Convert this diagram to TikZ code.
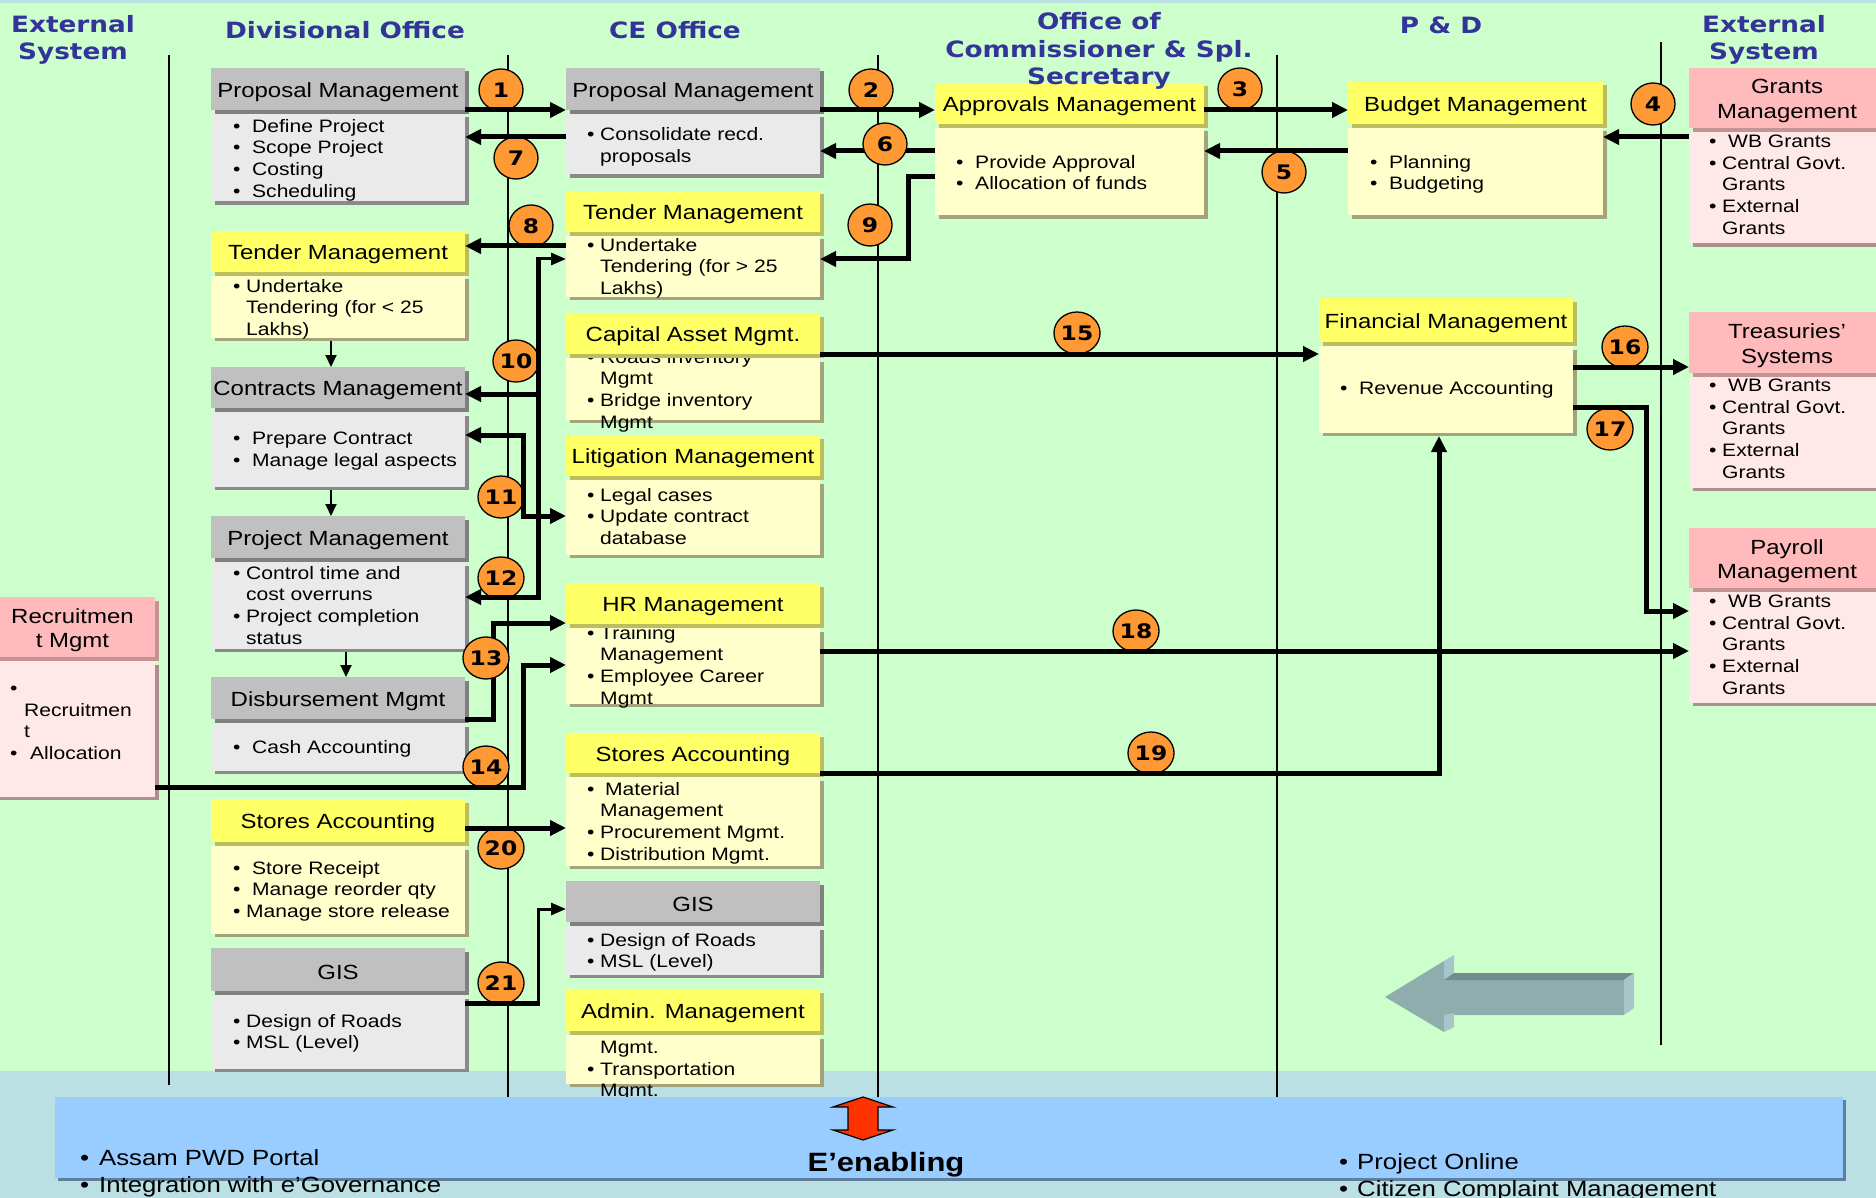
\documentclass[tikz,border=0pt]{standalone}
\usepackage{fontspec}
\setmainfont{Liberation Sans}[FakeStretch=1.17]
\newfontfamily\hdfont{DejaVu Sans}[FakeStretch=1.17]
\usetikzlibrary{arrows.meta,shapes.geometric,fit}

\definecolor{bg}{HTML}{CCFFCC}
\definecolor{band}{HTML}{BBE0E3}
\definecolor{hdblue}{HTML}{333399}
\definecolor{gyT}{HTML}{C0C0C0}\definecolor{gyB}{HTML}{EAEAEA}
\definecolor{gyS}{HTML}{8A8A8A}\definecolor{gyTS}{HTML}{808080}
\definecolor{ylT}{HTML}{FFFF66}\definecolor{ylB}{HTML}{FFFFCC}
\definecolor{ylS}{HTML}{A3A37C}\definecolor{ylTS}{HTML}{BDBD5E}
\definecolor{pkT}{HTML}{FFBBBB}\definecolor{pkB}{HTML}{FFE8E8}
\definecolor{pkS}{HTML}{AE8E8E}\definecolor{pkTS}{HTML}{C49494}
\definecolor{numor}{HTML}{FF9933}
\definecolor{enblue}{HTML}{99CCFF}\definecolor{enshadow}{HTML}{5F7F9F}
\definecolor{redarr}{HTML}{FF3300}
\definecolor{arF}{HTML}{8FADAD}\definecolor{arL}{HTML}{A7C6CA}\definecolor{arD}{HTML}{748C8C}

% bullets: wide gap, narrow gap, continuation indent
\newcommand\bw{\makebox[19pt][l]{•}}
\newcommand\bn{\makebox[13pt][l]{•}}
\newcommand\ind{\hspace*{13pt}}

\tikzset{
  >={Triangle[length=16pt,width=15pt]},
  vline/.style={line width=1.8pt, black},
  conn/.style={line width=5pt, black, line join=miter},
  connthin/.style={line width=3pt, black, -{Triangle[length=15pt,width=12pt]}},
  thinarr/.style={line width=2pt, black, -{Triangle[length=12pt,width=11pt]}},
  boxarea/.style={inner sep=0pt, outer sep=0pt},
  ttl/.style={inner sep=0pt, align=center, font={\fontsize{20.5}{24.5}\selectfont}},
  body/.style={anchor=north west, inner sep=0pt, align=left, yshift=7pt,
    font={\fontsize{18}{21.6}\selectfont}, execute at begin node={\rule{0pt}{13.5pt}}},
  botl/.style={anchor=north west, inner sep=0pt, align=left, yshift=8.6pt,
    font={\fontsize{22}{26.5}\selectfont}, execute at begin node={\rule{0pt}{16.5pt}}},
  hd/.style={inner sep=0pt, align=center, text=hdblue,
    font={\hdfont\bfseries\fontsize{22.5}{27.5}\selectfont}},
  num/.style={ellipse, draw=black, line width=1.3pt, fill=numor, minimum width=44pt,
    minimum height=42pt, inner sep=0pt, font={\hdfont\bfseries\fontsize{20}{20}\selectfont}}
}

% #1 name, #2 colour set, #3 x left, #4 x right, #5 top, #6 title bottom, #7 bottom, #8 title, #9 body text
\newcommand\procbox[9]{%
  \fill[#2S] (#3+3.5,#6+7.5) rectangle (#4+3.5,#7);
  \fill[#2B] (#3,#6+4) rectangle (#4,#7-3.5);
  #9
  \fill[#2TS] (#3+3.5,#5+3.5) rectangle (#4+3.5,#6+4);
  \fill[#2T] (#3,#5) rectangle (#4,#6);
  \node[ttl] (#1-t) at ({(#3+#4)/2},{(#5+#6)/2+3}) {#8};
  \node[boxarea, fit={(#3,#5) (#4,#7)}] (#1) {};
}

\begin{document}
\begin{tikzpicture}[x=1pt,y=-1pt]
\useasboundingbox (0,0) rectangle (1876,1198);
\clip (0,0) rectangle (1876,1198);

% background and bottom band
\fill[bg] (0,0) rectangle (1876,1198);
\fill[band] (0,1071) rectangle (1876,1198);
\fill[band] (0,0) rectangle (1876,3);

% swimlane dividers
\draw[vline] (169,55) -- (169,1085);
\draw[vline] (508,55) -- (508,1097);
\draw[vline] (878,55) -- (878,1097);
\draw[vline] (1277,55) -- (1277,1097);
\draw[vline] (1661,42) -- (1661,1045);

% ---- Divisional Office
\procbox{propA}{gy}{211}{465}{68}{110}{205}{Proposal Management}
  {\node[body] (propA-b) at (233,126) {\bw Define Project\\\bw Scope Project\\\bw Costing\\\bw Scheduling};}
\procbox{tendA}{yl}{211}{465}{231}{272}{341}{Tender Management}
  {\node[body] (tendA-b) at (233,286) {\bn Undertake\\\ind Tendering (for < 25\\\ind Lakhs)};}
\procbox{contr}{gy}{211}{465}{367}{408}{490}{Contracts Management}
  {\node[body] (contr-b) at (233,439) {\bw Prepare Contract\\\bw Manage legal aspects};}
\procbox{proj}{gy}{211}{465}{516}{558}{652}{Project Management}
  {\node[body] (proj-b) at (233,573) {\bn Control time and\\\ind cost overruns\\\bn Project completion\\\ind status};}
\procbox{disb}{gy}{211}{465}{677}{719}{774}{Disbursement Mgmt}
  {\node[body] (disb-b) at (233,747) {\bw Cash Accounting};}
\procbox{storA}{yl}{211}{465}{799}{842}{937}{Stores Accounting}
  {\node[body] (storA-b) at (233,868) {\bw Store Receipt\\\bw Manage reorder qty\\\bn Manage store release};}
\procbox{gisA}{gy}{211}{465}{948}{991}{1072}{GIS}
  {\node[body] (gisA-b) at (233,1021) {\bn Design of Roads\\\bn MSL (Level)};}

% ---- CE Office
\procbox{propB}{gy}{566}{820}{68}{110}{178}{Proposal Management}
  {\node[body, font={\fontsize{18}{22}\selectfont}] (propB-b) at (587,134) {\bn Consolidate recd.\\\ind proposals};}
\procbox{tendB}{yl}{566}{820}{191}{232}{300}{Tender Management}
  {\node[body] (tendB-b) at (587,245) {\bn Undertake\\\ind Tendering (for > 25\\\ind Lakhs)};}
\procbox{cap}{yl}{566}{820}{313}{354}{423}{Capital Asset Mgmt.}
  {\node[body] (cap-b) at (587,357) {\bn Roads inventory\\\ind Mgmt\\\bn Bridge inventory\\\ind Mgmt};}
\procbox{lit}{yl}{566}{820}{435}{476}{558}{Litigation Management}
  {\node[body] (lit-b) at (587,495) {\bn Legal cases\\\bn Update contract\\\ind database};}
\procbox{hr}{yl}{566}{820}{583}{624}{707}{HR Management}
  {\node[body] (hr-b) at (587,633) {\bn Training\\\ind Management\\\bn Employee Career\\\ind Mgmt};}
\procbox{storB}{yl}{566}{820}{733}{773}{869}{Stores Accounting}
  {\node[body] (storB-b) at (587,789) {\makebox[18pt][l]{•}Material\\\ind Management\\\bn Procurement Mgmt.\\\bn Distribution Mgmt.};}
\procbox{gisB}{gy}{566}{820}{881}{922}{978}{GIS}
  {\node[body] (gisB-b) at (587,940) {\bn Design of Roads\\\bn MSL (Level)};}
\procbox{admin}{yl}{566}{820}{989}{1031}{1087}{Admin. Management}
  {\node[body] (admin-b) at (587,1048) {\ind Mgmt.\\\bn Transportation\\\ind Mgmt.};}

% ---- Commissioner and P & D
\procbox{appr}{yl}{935}{1204}{83}{124}{219}{Approvals Management}
  {\node[body] (appr-b) at (956,162) {\bw Provide Approval\\\bw Allocation of funds};}
\procbox{budg}{yl}{1348}{1603}{82}{124}{219}{Budget Management}
  {\node[body] (budg-b) at (1370,162) {\bw Planning\\\bw Budgeting};}
\procbox{fin}{yl}{1319}{1573}{298}{342}{436}{Financial Management}
  {\node[body] (fin-b) at (1340,388) {\bw Revenue Accounting};}

% ---- External systems
\procbox{grants}{pk}{1689}{1885}{68}{128}{247}{Grants\\Management}
  {\node[body] (grants-b) at (1709,142) {\bw WB Grants\\\bn Central Govt.\\\ind Grants\\\bn External\\\ind Grants};}
\procbox{treas}{pk}{1689}{1885}{312}{373}{491}{Treasuries’\\Systems}
  {\node[body] (treas-b) at (1709,386) {\bw WB Grants\\\bn Central Govt.\\\ind Grants\\\bn External\\\ind Grants};}
\procbox{payroll}{pk}{1689}{1885}{528}{588}{706}{Payroll\\Management}
  {\node[body] (payroll-b) at (1709,602) {\bw WB Grants\\\bn Central Govt.\\\ind Grants\\\bn External\\\ind Grants};}
\procbox{recr}{pk}{-10}{155}{597}{657}{800}{Recruitmen\\t Mgmt}
  {\node[body] (recr-b) at (10,693) {•\\\hspace*{14pt}Recruitmen\\\hspace*{14pt}t\\\makebox[20pt][l]{•}Allocation};}

% ---- step numbers lying under the connectors
\node[num] (n1) at (501,90) {1};
\node[num] (n2) at (871,90) {2};
\node[num] (n3) at (1240,89) {3};
\node[num] (n4) at (1653,104) {4};
\node[num] (n5) at (1284,172) {5};
\node[num] (n7) at (516,158) {7};
\node[num] (n8) at (531,226) {8};
\node[num] (n9) at (870,225) {9};
\node[num] (n10) at (516,361) {10};
\node[num] (n11) at (501,497) {11};
\node[num] (n12) at (501,578) {12};
\node[num] (n14) at (486,767) {14};
\node[num] (n15) at (1077,333) {15};
\node[num] (n16) at (1625,347) {16};
\node[num] (n17) at (1610,429) {17};
\node[num] (n18) at (1136,631) {18};
\node[num] (n19) at (1151,753) {19};
\node[num] (n20) at (501,848) {20};
\node[num] (n21) at (501,983) {21};

% ---- flows inside the Divisional Office
\draw[thinarr] (tendA.south -| 331,0) -- (contr.north -| 331,0);
\draw[thinarr] (contr.south -| 331,0) -- (proj.north -| 331,0);
\draw[thinarr] (proj.south -| 346,0) -- (disb.north -| 346,0);

% ---- numbered flows
\draw[conn,->] (propA.east |- 0,110) -- (propB.west |- 0,110);
\draw[conn,->] (propB.east |- 0,110) -- (appr.west |- 0,110);
\draw[conn,->] (appr.east |- 0,110) -- (budg.west |- 0,110);
\draw[conn,->] (grants.west |- 0,137) -- (budg.east |- 0,137);
\draw[conn,->] (budg.west |- 0,151) -- (appr.east |- 0,151);
\draw[conn,->] (appr.west |- 0,151) -- (propB.east |- 0,151);
\draw[conn,->] (propB.west |- 0,137) -- (propA.east |- 0,137);
\draw[conn,->] (tendB.west |- 0,246) -- (tendA.east |- 0,246);
\draw[conn,->] (appr.west |- 0,177) -| (908,259) -- (tendB.east |- 0,259);
\draw[conn,->] (538,257) |- (proj.east |- 0,597);
\draw[conn,->] (538,394) -- (contr.east |- 0,394);
\draw[connthin] (536.5,259) -- (tendB.west |- 0,259);
\draw[conn,<->] (contr.east |- 0,435) -| (523,516) -- (lit.west |- 0,516);
\draw[conn,->] (disb.east |- 0,719) -| (493,623) -- (hr.west |- 0,623);
\draw[conn,->] (recr.east |- 0,787) -| (523,665) -- (hr.west |- 0,665);
\draw[conn,->] (cap.east |- 0,354) -- (fin.west |- 0,354);
\draw[conn,->] (fin.east |- 0,367) -- (treas.west |- 0,367);
\draw[conn,->] (fin.east |- 0,407) -| (1646,611) -- (payroll.west |- 0,611);
\draw[conn,->] (hr.east |- 0,651) -- (payroll.west |- 0,651);
\draw[conn,->] (storB.east |- 0,773) -| ([xshift=-7pt]fin.south);
\draw[conn,->] (storA.east |- 0,828) -- (storB.west |- 0,828);
\draw[conn] (gisA.east |- 0,1003) -- (539.5,1003);
\draw[connthin] (538,1005.5) |- (gisB.west |- 0,909);

% ---- step numbers lying over the connectors
\node[num] (n6) at (885,144) {6};
\node[num] (n13) at (486,658) {13};

% ---- lane headings
\node[hd] (h1) at (73,40) {External\\System};
\node[hd] (h2) at (345,30) {Divisional Office};
\node[hd] (h3) at (675,30) {CE Office};
\node[hd] (h4) at (1099,51) {Office of\\Commissioner \& Spl.\\Secretary};
\node[hd] (h5) at (1441,25) {P \& D};
\node[hd] (h6) at (1764,40) {External\\System};

% ---- E'enabling strip
\fill[enshadow] (58,1100) rectangle (1846,1181);
\fill[enblue] (55,1097) rectangle (1843,1178);
\filldraw[fill=redarr, draw=black, line width=1.2pt, line join=miter]
  (863,1097) -- (893,1107) -- (878,1107) -- (878,1130) -- (893,1130) -- (863,1140)
  -- (833,1130) -- (848,1130) -- (848,1107) -- (833,1107) -- cycle;
\node[font={\bfseries\fontsize{26.5}{26.5}\selectfont}] (enab) at (886,1165) {E’enabling};
\node[botl] (portal) at (80,1158) {\makebox[19pt][l]{•}Assam PWD Portal\\\makebox[19pt][l]{•}Integration with e’Governance};
\node[botl] (online) at (1339,1162) {\makebox[18pt][l]{•}Project Online\\\makebox[18pt][l]{•}Citizen Complaint Management};

% ---- block arrow
\fill[arF] (1385,997) -- (1444,961) -- (1444,980) -- (1624,980) -- (1624,1015)
  -- (1444,1015) -- (1444,1032) -- cycle;
\fill[arL] (1444,961) -- (1454,955) -- (1454,975) -- (1444,980) -- cycle;
\fill[arL] (1444,1015) -- (1454,1013) -- (1454,1027) -- (1444,1032) -- cycle;
\fill[arD] (1444,980) -- (1454,973) -- (1634,973) -- (1624,980) -- cycle;
\fill[arL] (1624,980) -- (1634,973) -- (1634,1008) -- (1624,1015) -- cycle;
\end{tikzpicture}
\end{document}
